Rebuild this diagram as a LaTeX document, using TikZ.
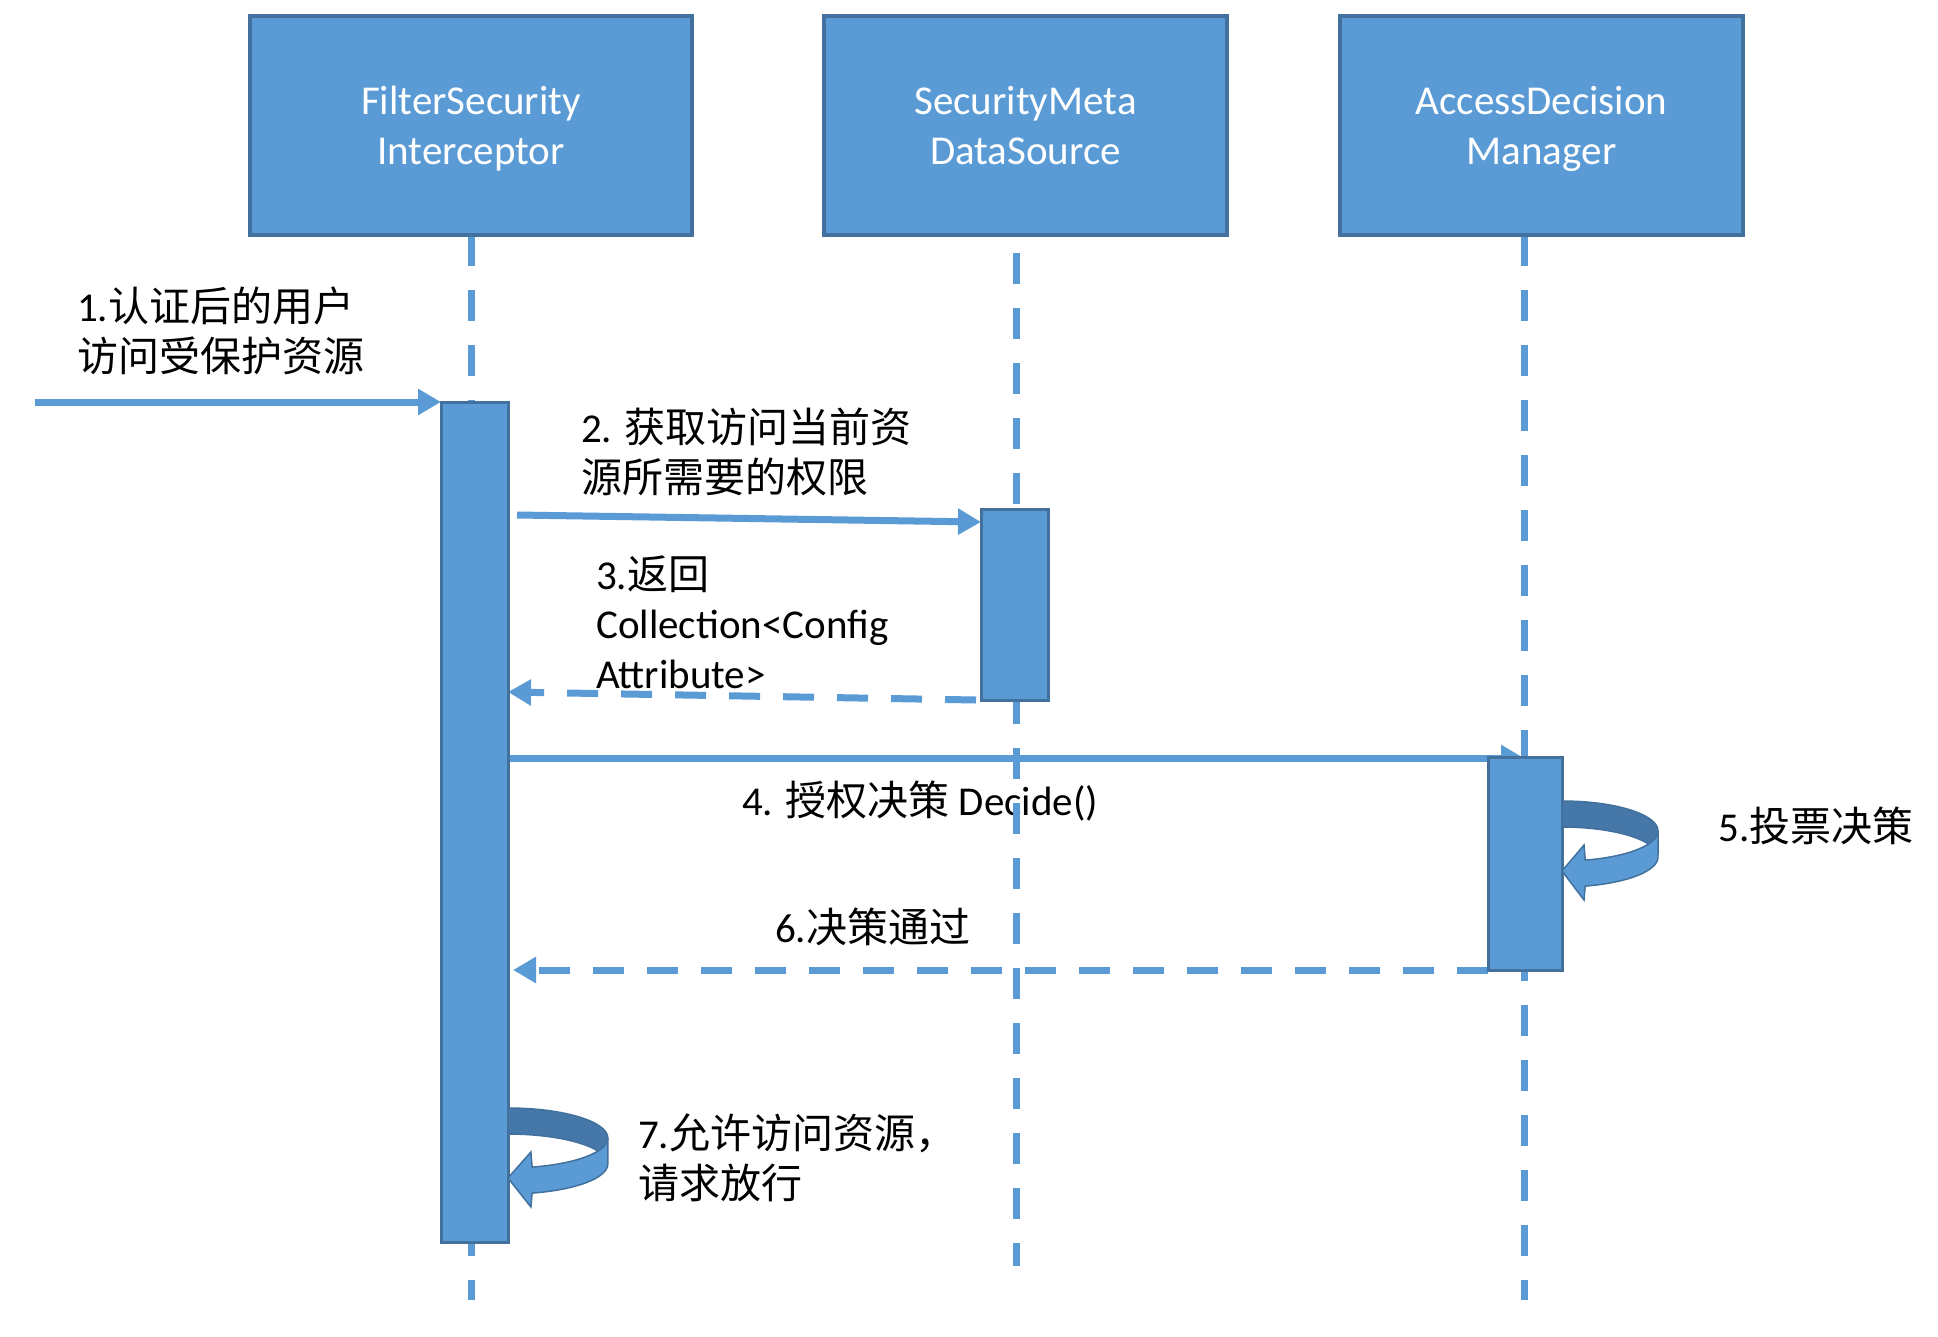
\documentclass[tikz,border=0pt]{standalone}
\usepackage{fontspec}
\setmainfont{Carlito}
\newfontfamily\cjk{Noto Sans CJK SC}
\usetikzlibrary{arrows.meta,calc}
\pgfdeclarelayer{back}
\pgfdeclarelayer{bg}
\pgfsetlayers{back,bg,main}
\definecolor{ofill}{HTML}{5B9BD5}
\definecolor{oedge}{HTML}{41719C}
\definecolor{odark}{HTML}{4677A9}
\newcommand\toprule{\rule{0pt}{37pt}}
\newcommand\botrule{\rule[-10pt]{0pt}{10pt}}
\tikzset{
  actor/.style={draw=oedge, fill=ofill, line width=3.5pt, text=white, align=center,
    font=\fontsize{41}{50}\selectfont, inner sep=0pt, outer sep=0pt},
  bar/.style={draw=oedge, fill=ofill, line width=3pt, inner sep=0pt, outer sep=0pt},
  life/.style={draw=ofill, line width=7pt, dash pattern=on 31pt off 24pt},
  msg/.style={draw=ofill, line width=7pt, -{Triangle[length=23pt,width=25pt]}},
  ret/.style={msg, dash pattern=on 31pt off 23pt},
  lbl/.style={font=\fontsize{41}{49.5}\selectfont, align=left, inner sep=0pt, anchor=west},
  pics/selfarrow/.style={code={
    \filldraw[fill=odark, draw=oedge, line width=1.5pt]
      (0,0) arc[start angle=-90, end angle=25.7, x radius=96, y radius=30]
      arc[start angle=-25.7, end angle=-90, x radius=96, y radius=30] -- cycle;
    \filldraw[fill=ofill, draw=oedge, line width=1.5pt]
      (96,30) arc[start angle=0, end angle=76, x radius=96, y radius=30]
      -- (22,44) -- (0,70) -- (22,99) -- (23.2,85.1)
      arc[start angle=76, end angle=0, x radius=96, y radius=30] -- cycle;
  }},
}
\begin{document}
\begin{tikzpicture}[x=1pt,y=-1pt]
\useasboundingbox (0,0) rectangle (1938,1336);
\begin{pgfonlayer}{back}
\fill[white] (0,0) rectangle (1938,1336);
\end{pgfonlayer}

% participants
\node[actor, minimum width=442pt, minimum height=219pt] (a1) at (471,125.5) {\toprule FilterSecurity\\Interceptor\botrule};
\node[actor, minimum width=403pt, minimum height=219pt] (a2) at (1025.5,125.5) {\toprule SecurityMeta\\DataSource\botrule};
\node[actor, minimum width=403pt, minimum height=219pt] (a3) at (1541.5,125.5) {\toprule AccessDecision\\Manager\botrule};

% activation bars
\node[bar, minimum width=67pt, minimum height=840pt] (bar1) at (474.5,822) {};
\node[bar, minimum width=67pt, minimum height=191pt] (bar2) at (1014.5,604.5) {};
\node[bar, minimum width=74pt, minimum height=213pt] (bar3) at (1525,863.5) {};

% self messages
\pic (s5) at ($(bar3.north east)+(0,44)$) {selfarrow};
\pic[xscale=1.04] (s7) at ($(bar1.north east)+(0,706)$) {selfarrow};

% end points of lifelines
\coordinate (l1top) at (471,235);
\coordinate (l1bot) at (471,1300);
\coordinate (l2top) at (1016,235);
\coordinate (l2bot) at (1016,1266);
\coordinate (l3top) at (1524,235);
\coordinate (l3bot) at (1524,1300);
\coordinate (in) at (35,402);

\begin{pgfonlayer}{bg}
% messages
\draw[msg] (in) -- (bar1.north west);
\draw[msg] ($(bar1.north east)+(9,113)$) -- ($(bar2.north west)+(0,13)$);
\draw[ret] ($(bar2.south west)+(-5,0)$) -- ($(bar1.north east)+(0,290)$);
\draw[msg] ($(bar1.north east)+(0,356)$) -- ($(bar3.north)+(-1,1)$);
\draw[ret] (bar3.south west) -- ($(bar1.north east)+(5,568)$);

% labels
\node[lbl] (t1) at (77,331) {1.{\cjk 认证后的用户}\\{\cjk 访问受保护资源}};
\node[lbl] (t2) at (581,452) {2. {\cjk 获取访问当前资}\\{\cjk 源所需要的权限}};
\node[lbl] (t3) at (596,622) {3.{\cjk 返回}\\Collection<Config\\Attribute>};
\node[lbl] (t4) at (742,801) {4. {\cjk 授权决策} Decide()};
\node[lbl] (t5) at (1718,826) {5.{\cjk 投票决策}};
\node[lbl] (t6) at (775,927) {6.{\cjk 决策通过}};
\node[lbl] (t7) at (638,1158) {7.{\cjk 允许访问资源，}\\{\cjk 请求放行}};

% lifelines
\draw[life] (l1top) -- (l1bot);
\draw[life, dash phase=37pt] (l2top) -- (l2bot);
\draw[life] (l3top) -- (l3bot);
\end{pgfonlayer}
\end{tikzpicture}
\end{document}
